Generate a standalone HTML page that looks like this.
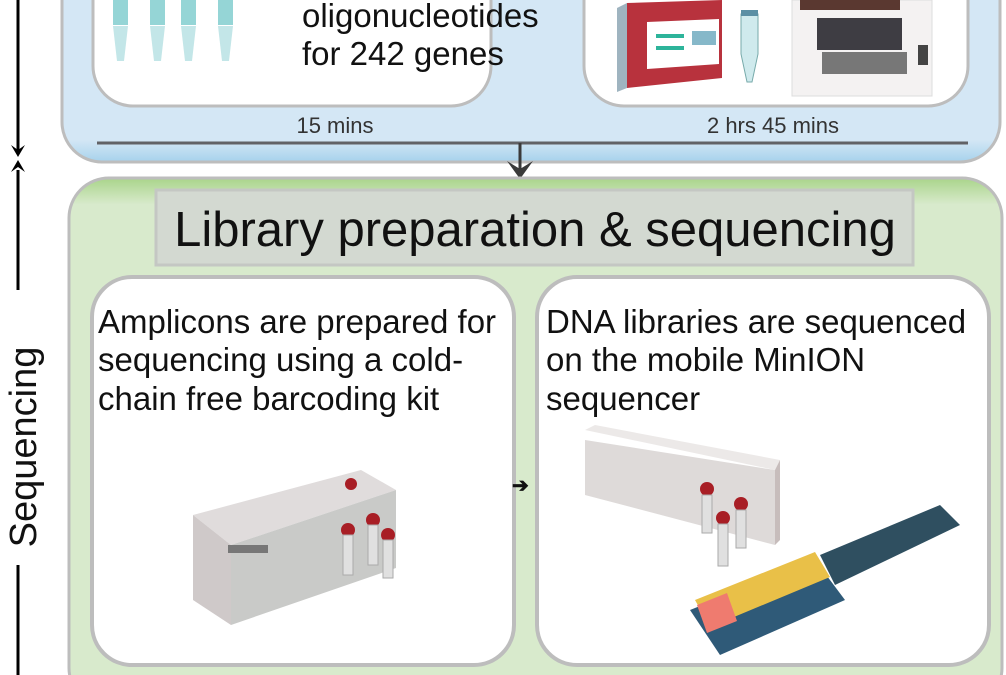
<!DOCTYPE html>
<html><head><meta charset="utf-8"><style>
html,body{margin:0;padding:0;background:#fff;width:1006px;height:675px;overflow:hidden}
svg{display:block}
svg text{font-family:"Liberation Sans",Arial,sans-serif}
</style></head><body>
<svg width="1006" height="675" viewBox="0 0 1006 675" xmlns="http://www.w3.org/2000/svg" style="overflow:hidden">
<defs>
<linearGradient id="bl" x1="0" y1="0" x2="0" y2="1"><stop offset="0" stop-color="#d4e7f5"/><stop offset="0.9" stop-color="#d4e7f5"/><stop offset="1" stop-color="#a6d2ec"/></linearGradient>
<linearGradient id="gr" x1="0" y1="0" x2="0" y2="1"><stop offset="0" stop-color="#a9d48a"/><stop offset="0.05" stop-color="#d8eacc"/><stop offset="1" stop-color="#d8eacc"/></linearGradient>
</defs>
<rect x="62" y="-60" width="938" height="222" rx="40" fill="url(#bl)" stroke="#bdbdbd" stroke-width="3"/>
<rect x="93" y="-50" width="398" height="156" rx="40" fill="#fff" stroke="#bdbdbd" stroke-width="3"/>
<rect x="584" y="-50" width="384" height="156" rx="40" fill="#fff" stroke="#bdbdbd" stroke-width="3"/>
<g fill="#95d5d6">
<path d="M113 0h15v25h-15z"/><path d="M150 0h15v25h-15z"/><path d="M181 0h15v25h-15z"/><path d="M218 0h15v25h-15z"/>
</g>
<g fill="#c3e6e8">
<path d="M113 26h15l-4 35h-7z"/><path d="M150 26h15l-4 35h-7z"/><path d="M181 26h15l-4 35h-7z"/><path d="M218 26h15l-4 35h-7z"/>
</g>
<text x="302" y="27" font-size="33" fill="#111">oligonucleotides</text>
<text x="302" y="65" font-size="33" fill="#111">for 242 genes</text>
<path d="M617 8l10-5v85l-10 4z" fill="#9fb4c0"/>
<path d="M627 3l95-3v78l-95 10z" fill="#b8323d"/>
<path d="M647 22l72-3v45l-72 5z" fill="#fff"/>
<rect x="656" y="34" width="28" height="4" fill="#2db49a"/><rect x="656" y="46" width="28" height="4" fill="#2db49a"/>
<rect x="692" y="31" width="24" height="14" fill="#86b8c9"/>
<path d="M741 14h17v40l-6 28h-5l-6-28z" fill="#cfeaed" stroke="#7aa" stroke-width="1"/>
<rect x="741" y="10" width="17" height="6" fill="#5b8fa4"/>
<rect x="792" y="0" width="140" height="96" fill="#f4f2f2" stroke="#ddd"/>
<rect x="800" y="0" width="100" height="10" fill="#5a3830"/>
<rect x="817" y="18" width="85" height="32" fill="#3e3d43"/>
<rect x="822" y="52" width="85" height="22" fill="#777"/>
<rect x="918" y="45" width="10" height="20" fill="#444"/>
<text x="335" y="133" font-size="22" fill="#333" text-anchor="middle">15 mins</text>
<text x="773" y="133" font-size="22" fill="#333" text-anchor="middle">2 hrs 45 mins</text>
<line x1="97" y1="143" x2="968" y2="143" stroke="#616266" stroke-width="3"/>
<line x1="520" y1="143" x2="520" y2="172" stroke="#3a3a3a" stroke-width="3"/>
<path d="M507 161l13 18 13-18-13 8z" fill="#3a3a3a"/>
<rect x="69" y="178" width="933" height="530" rx="40" fill="url(#gr)" stroke="#bdbdbd" stroke-width="3"/>
<rect x="156" y="190" width="757" height="75" fill="#d3d9d1" stroke="#c4c7c3" stroke-width="3"/>
<text x="535" y="246" font-size="49" fill="#111" text-anchor="middle">Library preparation &amp; sequencing</text>
<rect x="92" y="277" width="422" height="388" rx="40" fill="#fff" stroke="#bdbdbd" stroke-width="4"/>
<rect x="537" y="277" width="452" height="388" rx="40" fill="#fff" stroke="#bdbdbd" stroke-width="4"/>
<g font-size="33" fill="#111">
<text x="98" y="333">Amplicons are prepared for</text>
<text x="98" y="371">sequencing using a cold-</text>
<text x="98" y="410">chain free barcoding kit</text>
<text x="546" y="333">DNA libraries are sequenced</text>
<text x="546" y="371">on the mobile MinION</text>
<text x="546" y="410">sequencer</text>
</g>
<text x="512" y="492" font-size="20" font-weight="bold" fill="#111">➔</text>
<!-- card3 kit -->
<path d="M193 515l168-45 35 20-165 55z" fill="#e0dcdc"/>
<path d="M193 515l38 30v80l-38-25z" fill="#cfc9c9"/>
<path d="M231 545l165-55v78l-165 57z" fill="#c9cac8"/>
<rect x="228" y="545" width="40" height="8" fill="#777"/>
<g fill="#a81e25"><circle cx="351" cy="484" r="6"/><circle cx="348" cy="530" r="7"/><circle cx="373" cy="520" r="7"/><circle cx="388" cy="535" r="7"/></g>
<g fill="#e0e0e0" stroke="#aaa"><rect x="343" y="535" width="10" height="40"/><rect x="368" y="525" width="10" height="40"/><rect x="383" y="540" width="10" height="38"/></g>
<!-- card4 -->
<path d="M585 440l190 30v75l-190-50z" fill="#dedad9"/>
<path d="M585 430l10-5 185 35-5 10z" fill="#ece9e8"/>
<path d="M775 470l5-10v80l-5 5z" fill="#c7bdbc"/>
<g fill="#a81e25"><circle cx="707" cy="489" r="7"/><circle cx="741" cy="504" r="7"/><circle cx="723" cy="518" r="7"/></g>
<g fill="#e0e0e0" stroke="#aaa"><rect x="702" y="495" width="10" height="38"/><rect x="736" y="510" width="10" height="38"/><rect x="718" y="524" width="10" height="42"/></g>
<path d="M820 555l120-50 20 20-125 60z" fill="#2f4f60"/>
<path d="M690 610l125-50 30 40-125 55z" fill="#2f5a78"/>
<path d="M695 600l120-48 15 25-120 50z" fill="#e9c048"/>
<path d="M697 605l30-12 10 28-30 12z" fill="#ef7b6f"/>
<!-- left axis -->
<line x1="18" y1="0" x2="18" y2="150" stroke="#000" stroke-width="3"/>
<path d="M11 145l7 12 7-12-7 5z" fill="#000"/>
<line x1="18" y1="170" x2="18" y2="290" stroke="#000" stroke-width="3"/>
<path d="M11 172l7-12 7 12-7-5z" fill="#000"/>
<text transform="translate(36 447) rotate(-90)" font-size="38" fill="#111" text-anchor="middle">Sequencing</text>
<line x1="18" y1="565" x2="18" y2="675" stroke="#000" stroke-width="3"/>
</svg>
</body></html>
